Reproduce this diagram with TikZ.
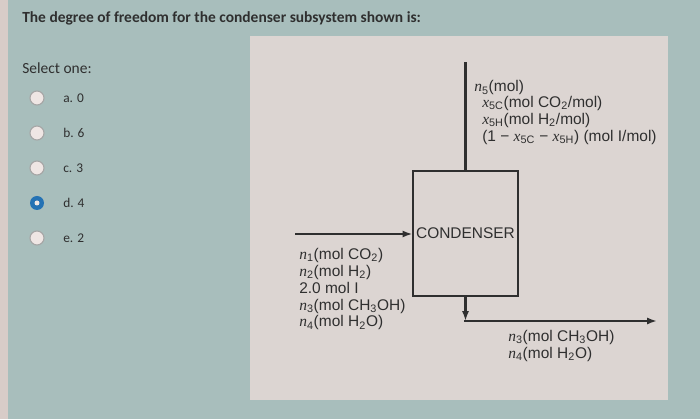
\documentclass[tikz,border=0pt]{standalone}
\usepackage{fontspec}
\setmainfont{Carlito}
\newfontfamily\diagfont{Liberation Sans}
\newfontfamily\varfont{Liberation Serif}
\usetikzlibrary{positioning, arrows.meta}
\definecolor{quizBg}{HTML}{A8BEBC}
\definecolor{edgePink}{HTML}{D8CCC8}
\definecolor{paperGrey}{HTML}{DCD5D2}
\definecolor{inkDark}{HTML}{2F2F2F}
\definecolor{radioBlue}{HTML}{2472B4}
\definecolor{radioFace}{HTML}{EFE6E4}
\newcommand{\flowvar}[2]{{\varfont\itshape #1}\textsubscript{#2}}
\newcommand{\flowminus}{\char"2212}

\begin{document}
\begin{tikzpicture}[x=0.025cm, y=-0.025cm, every node/.style={text=inkDark},
    flowtext/.style={font=\diagfont\fontsize{11}{12}\selectfont, align=left, inner sep=0pt},
    stream/.style={line width=1.6pt, draw=inkDark, -{Latex[length=7pt, width=5pt]}}]
    \useasboundingbox (0,0) rectangle (700,419);
    \fill[quizBg] (0,0) rectangle (700,419);
    \fill[edgePink] (0,0) rectangle (8,419);
    \fill[paperGrey] (250,36) rectangle (668,400);

    \node[anchor=west, font=\bfseries\fontsize{11}{12}\selectfont, inner sep=0pt] (title) at (22,18) {The degree of freedom for the condenser subsystem shown is:};
    \node[anchor=west, font=\fontsize{11}{12}\selectfont, inner sep=0pt] (select) at (22,68) {Select one:};
    \foreach \lab [count=\i] in {a. 0, b. 6, c. 3, d. 4, e. 2} {
      \ifnum\i=4
        \node[circle, fill=radioBlue, minimum size=14*0.025cm, inner sep=0pt] (radio\i) at (37,63+35*\i) {};
        \fill[radioFace] (radio\i) circle (2.5);
      \else
        \node[circle, draw=gray!70, fill=radioFace, thick, minimum size=14*0.025cm, inner sep=0pt] (radio\i) at (37,63+35*\i) {};
      \fi
      \node[anchor=west, font=\fontsize{9.5}{11}\selectfont, inner sep=0pt] (opt\i) at (63,63+35*\i) {\lab};
    }

    % condenser and its streams
    \node[draw=inkDark, thick, fill=paperGrey, minimum width=105*0.025cm, minimum height=125*0.025cm, inner sep=2pt, font=\diagfont\fontsize{11}{12}\selectfont] (cond) at (465.5,233.5) {CONDENSER};

    \coordinate (topEnd) at (465.5,62);
    \draw[line width=1.6pt, draw=inkDark] (cond.north) -- (topEnd);
    \node[flowtext, anchor=west] (vapN) at (474,88) {\flowvar{n}{5}(mol)};
    \node[flowtext, anchor=north west] (vapX) at (482,96) {\flowvar{x}{5C}(mol CO\textsubscript{2}/mol)\\\flowvar{x}{5H}(mol H\textsubscript{2}/mol)\\(1 \flowminus{} \flowvar{x}{5C} \flowminus{} \flowvar{x}{5H}) (mol I/mol)};

    \coordinate (inStart) at (295,234);
    \draw[stream] (inStart) -- (cond.west |- inStart);
    \node[flowtext, anchor=north west] (feed) at (299,248) {\flowvar{n}{1}(mol CO\textsubscript{2})\\\flowvar{n}{2}(mol H\textsubscript{2})\\2.0 mol I\\\flowvar{n}{3}(mol CH\textsubscript{3}OH)\\\flowvar{n}{4}(mol H\textsubscript{2}O)};

    \coordinate (outCorner) at (465.5,321);
    \coordinate (outEnd) at (657,321);
    \draw[stream] (cond.south) -- (outCorner);
    \draw[stream] ([xshift=-0.8pt]outCorner) -- (outEnd);
    \node[flowtext, anchor=north west] (liquid) at (508,330) {\flowvar{n}{3}(mol CH\textsubscript{3}OH)\\\flowvar{n}{4}(mol H\textsubscript{2}O)};
\end{tikzpicture}
\end{document}
